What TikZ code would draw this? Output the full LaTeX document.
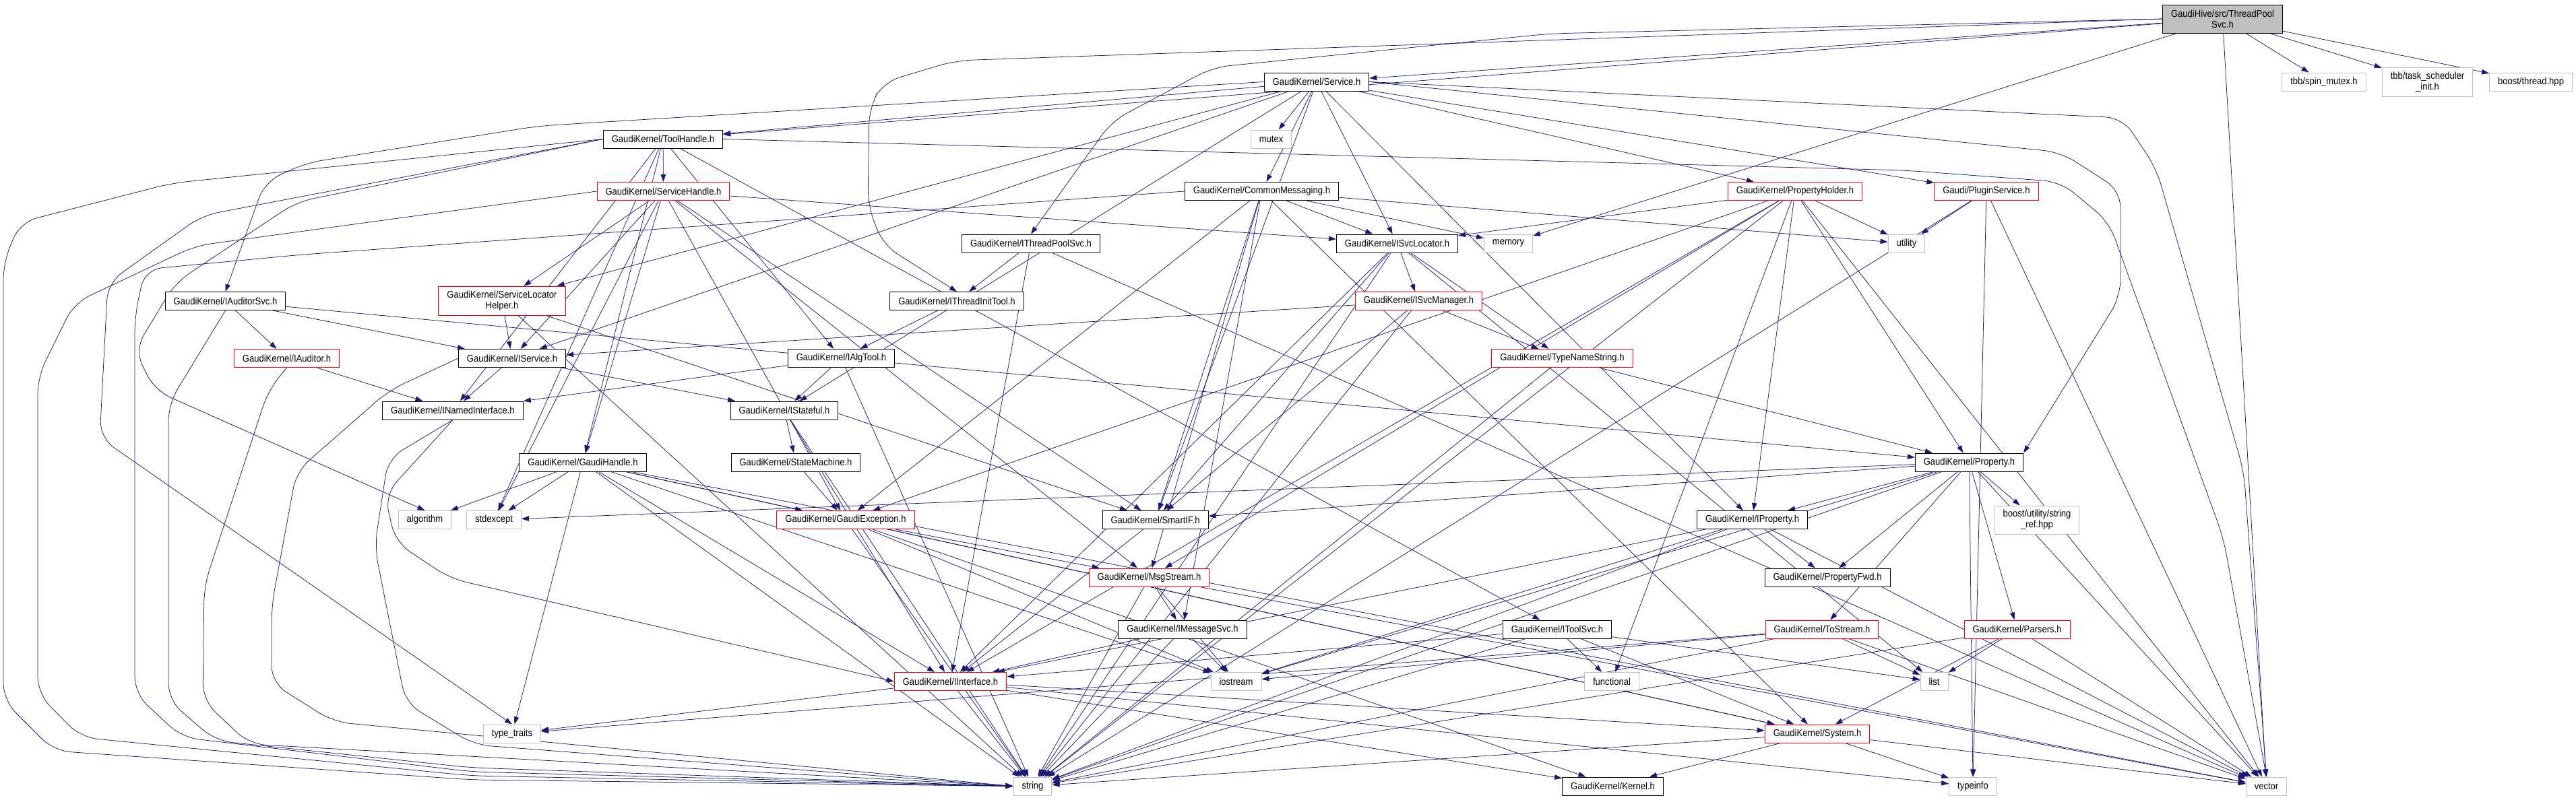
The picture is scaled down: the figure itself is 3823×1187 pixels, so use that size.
\documentclass[tikz,border=0pt]{standalone}
\usepackage{fontspec}
\setmainfont{Liberation Sans}[FakeStretch=0.9]
\usetikzlibrary{arrows.meta}
\definecolor{edgeblue}{RGB}{25,25,112}
\definecolor{sysgray}{RGB}{191,191,191}
\pgfdeclarelayer{bg}
\pgfsetlayers{bg,main}
\tikzset{>={Triangle[length=11pt,width=7.5pt]}}

\begin{document}
\begin{tikzpicture}[x=1pt, y=-1pt,
    hdr/.style={draw=black, line width=1pt, fill=white, inner xsep=12.5pt, inner ysep=0pt,
        minimum height=27pt, align=center, font=\fontsize{14.5}{16}\selectfont},
    redhdr/.style={hdr, draw=red},
    syshdr/.style={hdr, draw=sysgray},
    roothdr/.style={hdr, fill=sysgray},
    dep/.style={draw=edgeblue, line width=0.75pt, ->},
    route/.style={dep, rounded corners=25pt}]
%uses arrows.meta, layers
    \useasboundingbox (0,0) rectangle (3823,1187);

    %top rows
    \node[roothdr, minimum height=42pt] (root) at (3298.5,28) {GaudiHive/src/ThreadPool\\Svc.h};
    \node[syshdr] (spinmutex) at (3449,121.5) {tbb/spin\_mutex.h};
    \node[syshdr, minimum height=43pt] (tsinit) at (3602.5,121.5) {tbb/task\_scheduler\\\_init.h};
    \node[syshdr] (bthread) at (3756,121.5) {boost/thread.hpp};
    \node[hdr] (svc) at (1954,121.5) {GaudiKernel/Service.h};
    \node[syshdr] (mutex) at (1886.5,206.5) {mutex};
    \node[hdr] (toolh) at (984,206.5) {GaudiKernel/ToolHandle.h};
    \node[redhdr] (svch) at (984.5,284) {GaudiKernel/ServiceHandle.h};
    \node[hdr] (cmsg) at (1872.5,284) {GaudiKernel/CommonMessaging.h};
    \node[redhdr] (pholder) at (2664,284) {GaudiKernel/PropertyHolder.h};
    \node[redhdr] (plugin) at (2948,284) {Gaudi/PluginService.h};
    \node[hdr] (itpsvc) at (1530,361.5) {GaudiKernel/IThreadPoolSvc.h};
    \node[hdr] (svcloc) at (2073.5,361.5) {GaudiKernel/ISvcLocator.h};
    \node[syshdr] (memory) at (2238.5,361.5) {memory};
    \node[syshdr] (utility) at (2829.5,361.5) {utility};

    %interfaces
    \node[hdr] (iaudsvc) at (334.5,447) {GaudiKernel/IAuditorSvc.h};
    \node[redhdr, minimum height=43pt] (slhelper) at (745,446.5) {GaudiKernel/ServiceLocator\\Helper.h};
    \node[hdr] (itinit) at (1420,447) {GaudiKernel/IThreadInitTool.h};
    \node[redhdr] (svcmgr) at (2105.5,447) {GaudiKernel/ISvcManager.h};
    \node[redhdr] (iaud) at (425.5,532) {GaudiKernel/IAuditor.h};
    \node[hdr] (isvc) at (760,532) {GaudiKernel/IService.h};
    \node[hdr] (ialgt) at (1248.5,532) {GaudiKernel/IAlgTool.h};
    \node[redhdr] (tnstr) at (2318.5,532) {GaudiKernel/TypeNameString.h};
    \node[hdr] (inamed) at (672,609.5) {GaudiKernel/INamedInterface.h};
    \node[hdr] (istate) at (1164,609.5) {GaudiKernel/IStateful.h};
    \node[hdr] (ghandle) at (865,686.5) {GaudiKernel/GaudiHandle.h};
    \node[hdr] (stmach) at (1181,686.5) {GaudiKernel/StateMachine.h};
    \node[hdr] (prop) at (2922.5,686.5) {GaudiKernel/Property.h};

    %lower rows
    \node[syshdr] (algorithm) at (630.5,772) {algorithm};
    \node[syshdr] (stdexcept) at (733,772) {stdexcept};
    \node[redhdr] (gexc) at (1255,772) {GaudiKernel/GaudiException.h};
    \node[hdr] (smartif) at (1714.5,772) {GaudiKernel/SmartIF.h};
    \node[hdr] (iprop) at (2600.5,772) {GaudiKernel/IProperty.h};
    \node[syshdr, minimum height=42pt] (strref) at (3023,772) {boost/utility/string\\\_ref.hpp};
    \node[redhdr] (msgs) at (1705.5,857.5) {GaudiKernel/MsgStream.h};
    \node[hdr] (propfwd) at (2712,857.5) {GaudiKernel/PropertyFwd.h};
    \node[hdr] (imsgsvc) at (1755,934.5) {GaudiKernel/IMessageSvc.h};
    \node[hdr] (itoolsvc) at (2311,934.5) {GaudiKernel/IToolSvc.h};
    \node[redhdr] (tostream) at (2704,934.5) {GaudiKernel/ToStream.h};
    \node[redhdr] (parsers) at (2993.5,934.5) {GaudiKernel/Parsers.h};
    \node[redhdr] (iiface) at (1410.5,1012) {GaudiKernel/IInterface.h};
    \node[syshdr] (iostream) at (1834.5,1012) {iostream};
    \node[syshdr] (functional) at (2392,1012) {functional};
    \node[syshdr] (list) at (2870.5,1012) {list};
    \node[syshdr] (typetraits) at (760,1089.5) {type\_traits};
    \node[redhdr] (system) at (2697,1089.5) {GaudiKernel/System.h};
    \node[syshdr] (string) at (1532.5,1167.5) {string};
    \node[hdr] (kernel) at (2393.5,1167.5) {GaudiKernel/Kernel.h};
    \node[syshdr] (typeinfo) at (2928,1167.5) {typeinfo};
    \node[syshdr] (vector) at (3363.5,1167.5) {vector};

    \begin{pgfonlayer}{bg}
    %direct includes
    \foreach \a/\b in {root/svc, root/toolh, root/spinmutex, root/tsinit, root/bthread, root/memory, root/vector,
        svc/mutex, svc/cmsg, svc/svcloc, svc/smartif, svc/toolh, svc/pholder, svc/plugin, svc/slhelper,
        svc/isvc, svc/istate, svc/iprop,
        toolh/svch, toolh/ialgt, toolh/ghandle, toolh/inamed, toolh/itoolsvc, toolh/stdexcept,
        svch/slhelper, svch/isvc, svch/svcloc, svch/ghandle, svch/gexc, svch/msgs, svch/smartif, svch/stdexcept,
        cmsg/svcloc, cmsg/memory, cmsg/utility, cmsg/smartif, cmsg/msgs, cmsg/imsgsvc, cmsg/gexc, cmsg/system,
        itpsvc/itinit, itpsvc/iiface, itpsvc/vector, itinit/ialgt,
        svcloc/svcmgr, svcloc/iiface, svcloc/smartif, svcloc/tnstr, svcloc/list, svcloc/string,
        pholder/utility, pholder/svcloc, pholder/iprop, pholder/prop, pholder/gexc, pholder/msgs,
        pholder/iiface, pholder/string, pholder/vector, pholder/functional,
        plugin/utility, plugin/string, plugin/typeinfo, plugin/vector,
        iaudsvc/iaud, iaudsvc/isvc, iaudsvc/prop, slhelper/isvc, slhelper/string, slhelper/smartif,
        iaud/inamed, isvc/inamed, isvc/istate, ialgt/inamed, ialgt/istate, ialgt/string,
        svcmgr/isvc, svcmgr/tnstr, svcmgr/smartif, svcmgr/string, tnstr/string, tnstr/prop,
        istate/stmach, istate/iiface, istate/string,
        ghandle/algorithm, ghandle/stdexcept, ghandle/gexc, ghandle/iiface, ghandle/system,
        ghandle/iostream, ghandle/string, ghandle/typetraits, ghandle/vector, stmach/gexc,
        prop/iprop, prop/propfwd, prop/tostream, prop/parsers, prop/strref, prop/smartif, prop/stdexcept,
        prop/string, prop/vector, prop/typeinfo, prop/iostream,
        iprop/propfwd, iprop/iiface, iprop/string, iprop/iostream, iprop/vector,
        gexc/msgs, gexc/iostream, gexc/system, gexc/kernel, gexc/string, smartif/iiface,
        msgs/imsgsvc, msgs/string, msgs/iostream, msgs/vector, imsgsvc/iiface, imsgsvc/string, imsgsvc/iostream,
        itoolsvc/iiface, itoolsvc/functional, itoolsvc/list, itoolsvc/string, itoolsvc/system,
        tostream/list, tostream/iostream, tostream/typetraits, tostream/string, tostream/vector,
        parsers/list, parsers/system, parsers/vector, parsers/string,
        iiface/typetraits, iiface/system, iiface/kernel, iiface/string, iiface/typeinfo,
        system/kernel, system/string, system/typeinfo, system/vector}
    {
        \draw[dep] (\a) -- (\b);
    }

    %long includes, routed round the left side
    \draw[route] (toolh.west) -- (255,272) -- (30,330) -- (5,390) -- (5,1040) -- (80,1115) -- (700,1158) -- (string.west);
    \draw[route] (svch.west) -- (290,365) -- (110,450) -- (56,560) -- (56,1030) -- (120,1095) -- (700,1152) -- (string.west);
    \draw[route] (cmsg.west) -- (450,378) -- (215,400) -- (200,470) -- (200,1030) -- (270,1095) -- (700,1146) -- (string.west);
    \draw[route] (iaudsvc.south) -- (250,600) -- (250,1040) -- (320,1100) -- (700,1140) -- (string.west);
    \draw[route] (iaud.south) -- (398,580) -- (303,870) -- (301,1040) -- (370,1105) -- (string.west);
    \draw[route] (isvc.west) -- (577,580) -- (440,700) -- (403,900) -- (403,1014) -- (495,1072) -- (string.west);
    \draw[route] (inamed.south) -- (576,681) -- (556,812) -- (602,1044) -- (704,1106) -- (string.west);
    \draw[route] (inamed.south) -- (571,735) -- (587,805) -- (668,859) -- (iiface.west);
    \draw[route] (toolh.west) -- (300,320) -- (160,420) -- (148,650) -- (typetraits.north);
    \draw[route] (toolh.west) -- (440,300) -- (260,420) -- (200,520) -- (230,580) -- (algorithm.north);
    \draw[route] (svc.west) -- (800,187) -- (454,242) -- (393,270) -- (iaudsvc.north);

    %long includes from the top file
    \draw[route] (root.west) -- (1418,90) -- (1311,122) -- (1290,160) -- (1288,306) -- (1311,364) -- (itinit.north);
    \draw[route] (root.west) -- (2300,50) -- (1800,100) -- (1650,180) -- (itpsvc.north);

    %long includes, routed round the right side
    \draw[route] (svc.east) -- (3150,175) -- (3200,250) -- (3330,700) -- (vector.north);
    \draw[route] (toolh.east) -- (2827,253) -- (3058,270) -- (3130,330) -- (3300,800) -- (vector.north);
    \draw[route] (svc.east) -- (3058,226) -- (3147,283) -- (3147,440) -- (prop.north east);
    \end{pgfonlayer}
\end{tikzpicture}
\end{document}
